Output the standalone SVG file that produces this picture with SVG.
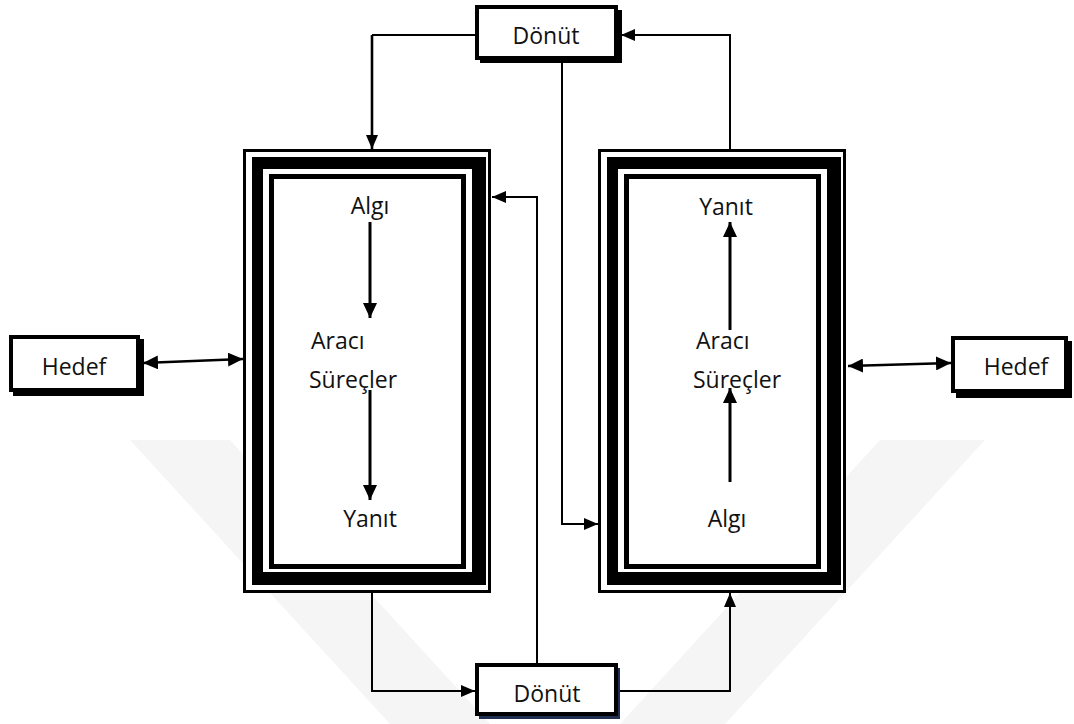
<svg xmlns="http://www.w3.org/2000/svg" width="1074" height="724" viewBox="0 0 1074 724">
  <style>
    text { font-family: "Open Sans", "Noto Sans", "DejaVu Sans", sans-serif; font-size: 23px; fill: #111; }
    .c { text-anchor: middle; }
    .wire { fill: none; stroke: #000; stroke-width: 2; }
    .thick { stroke-width: 2.6; }
    .flow { fill: none; stroke: #000; stroke-width: 3; }
    .wm { fill: #f5f5f5; }
  </style>
  <defs>
    <marker id="head" markerUnits="userSpaceOnUse" markerWidth="14" markerHeight="12" viewBox="0 0 14 12" refX="14" refY="6" orient="auto-start-reverse">
      <path d="M0,0 L14,6 L0,12 z" fill="#000"/>
    </marker>
    <marker id="bighead" markerUnits="userSpaceOnUse" markerWidth="15" markerHeight="14" viewBox="0 0 15 14" refX="15" refY="7" orient="auto-start-reverse">
      <path d="M0,0 L15,7 L0,14 z" fill="#000"/>
    </marker>
    <!-- triple-bordered process frame -->
    <g id="frame">
      <rect x="0" y="0" width="248" height="444" fill="#000"/>
      <rect x="3" y="3" width="242" height="438" fill="#fff"/>
      <rect x="9" y="8" width="234" height="428" fill="#000"/>
      <rect x="20" y="20" width="209" height="403" fill="#fff"/>
      <rect x="26" y="25" width="197" height="395" fill="#000"/>
      <rect x="31" y="30" width="187" height="385" fill="#fff"/>
    </g>
  </defs>

  <rect width="1074" height="724" fill="#fff"/>

  <!-- background watermark -->
  <g id="watermark">
    <polygon class="wm" points="130,440 230,440 490,724 390,724"/>
    <polygon class="wm" points="880,440 985,440 725,724 620,724"/>
  </g>

  <!-- connectors -->
  <g id="connectors">
    <path class="wire" d="M475,35 H372"/>
    <path class="wire thick" d="M372,35 V149" marker-end="url(#head)"/>
    <path class="wire" d="M562,60 V524 H598" marker-end="url(#head)"/>
    <path class="wire" d="M730,149 V35 H621" marker-end="url(#head)"/>
    <path class="wire" d="M372,593 V691 H475" marker-end="url(#head)"/>
    <path class="wire" d="M537,663 V197 H492" marker-end="url(#head)"/>
    <path class="wire" d="M618,691 H730 V593" marker-end="url(#head)"/>
    <path class="wire thick" d="M143,363 L243,359" marker-start="url(#bighead)" marker-end="url(#bighead)"/>
    <path class="wire thick" d="M848,366 L951,363" marker-start="url(#bighead)" marker-end="url(#bighead)"/>
  </g>

  <!-- left process -->
  <g id="process-left">
    <use href="#frame" x="243" y="149"/>
    <path class="flow" d="M370,222 V318" marker-end="url(#bighead)"/>
    <path class="flow" d="M370,390 V500" marker-end="url(#bighead)"/>
    <text class="c" x="370" y="214">Algı</text>
    <text x="311" y="349">Aracı</text>
    <text x="309" y="388">Süreçler</text>
    <text class="c" x="370" y="527">Yanıt</text>
  </g>

  <!-- right process -->
  <g id="process-right">
    <use href="#frame" x="598" y="149"/>
    <path class="flow" d="M730,330 V222" marker-end="url(#bighead)"/>
    <path class="flow" d="M730,482 V388" marker-end="url(#bighead)"/>
    <text class="c" x="726" y="215">Yanıt</text>
    <text x="696" y="349">Aracı</text>
    <text x="693" y="388">Süreçler</text>
    <text class="c" x="727" y="527">Algı</text>
  </g>

  <!-- feedback boxes -->
  <g id="feedback-top">
    <rect x="480" y="10" width="142" height="53" fill="#000"/>
    <rect x="477" y="7" width="139" height="51" fill="#fff" stroke="#000" stroke-width="4"/>
    <text class="c" x="546" y="44">Dönüt</text>
  </g>
  <g id="feedback-bottom">
    <rect x="479" y="668" width="141" height="51" fill="#1f2f4f"/>
    <rect x="477" y="665" width="139" height="49" fill="#fff" stroke="#000" stroke-width="4"/>
    <text class="c" x="547" y="702">Dönüt</text>
  </g>

  <!-- goal boxes -->
  <g id="goal-left">
    <rect x="13" y="339" width="131" height="57" fill="#000"/>
    <rect x="11" y="337" width="127" height="53" fill="#fff" stroke="#000" stroke-width="4"/>
    <text class="c" x="74" y="375">Hedef</text>
  </g>
  <g id="goal-right">
    <rect x="956" y="341" width="116" height="57" fill="#000"/>
    <rect x="953" y="338" width="113" height="53" fill="#fff" stroke="#000" stroke-width="4"/>
    <text class="c" x="1016" y="375">Hedef</text>
  </g>
</svg>
